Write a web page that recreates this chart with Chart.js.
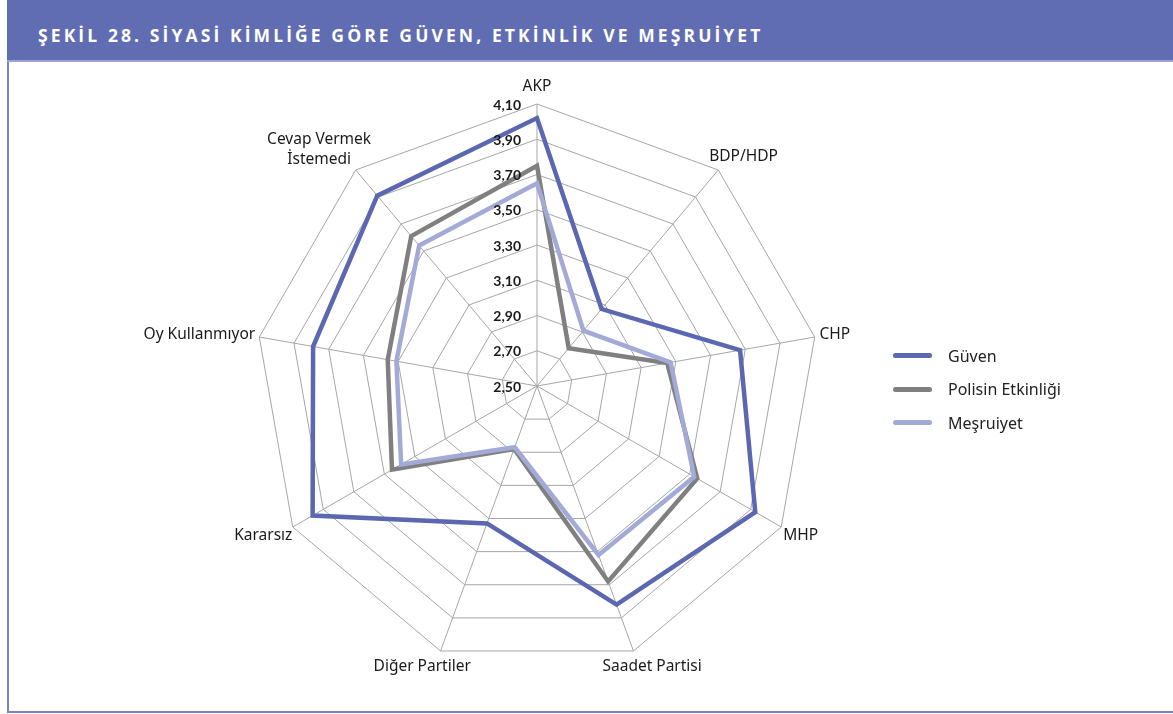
<!DOCTYPE html>
<html>
<head>
<meta charset="utf-8">
<script src="https://cdn.jsdelivr.net/npm/chart.js@4"></script>
<style>
  html, body { margin: 0; padding: 0; background: #fff; }
  body { width: 1173px; height: 714px; position: relative; overflow: hidden; font-family: "Noto Sans", sans-serif; }
  .header {
    position: absolute; left: 7px; top: 0; width: 1166px; height: 60px;
    background: #616db2; border-bottom: 2px solid #9ca4d6;
  }
  .header h1 {
    margin: 0; position: absolute; left: 31px; top: 23px; line-height: 24px;
    font: 700 17.5px "Open Sans", sans-serif; letter-spacing: 3.1px; color: #fff;
  }
  .frame {
    position: absolute; left: 7px; top: 62px; width: 1166px; height: 649px;
    border-left: 2px solid #7a83c2; border-bottom: 2px solid #7a83c2;
  }
  #wrap { position: absolute; left: 0; top: 62px; width: 1074px; height: 650px; }
  #legend { position: absolute; left: 893px; top: 339px; }
  #legend .item { display: flex; align-items: center; height: 33.5px; font-size: 16px; color: #222; }
  #legend .sw { width: 39px; height: 5px; border-radius: 3px; margin-right: 16px; }
</style>
</head>
<body>
<div class="header"><h1>ŞEKİL 28. SİYASİ KİMLİĞE GÖRE GÜVEN, ETKİNLİK VE MEŞRUİYET</h1></div>
<div class="frame"></div>
<div id="wrap"><canvas id="chart"></canvas></div>
<div id="legend"></div>
<script>
const categories = ['AKP', 'BDP/HDP', 'CHP', 'MHP', 'Saadet Partisi', 'Diğer Partiler', 'Kararsız', 'Oy Kullanmıyor', ['Cevap Vermek', 'İstemedi']]
const guven = [4.02, 3.07, 3.67, 3.93, 3.82, 3.33, 3.97, 3.79, 3.91]
const polis = [3.75, 2.78, 3.25, 3.55, 3.68, 2.88, 3.45, 3.36, 3.61]
const mesruiyet = [3.65, 2.91, 3.27, 3.53, 3.52, 2.87, 3.39, 3.31, 3.54]
const tickLabels = ['2,50', '2,70', '2,90', '3,10', '3,30', '3,50', '3,70', '3,90', '4,10']

const seriesNames = ['Güven', 'Polisin Etkinliği', 'Meşruiyet']
const colors = ['#5b67b1', '#808080', '#a4aad7']

// tick labels sit left of the AKP axis, right aligned (2,50 included)
const tickLabelPlugin = {
    id: 'tickLabels',
    afterDatasetsDraw(chart) {
        const r = chart.scales.r
        const ctx = chart.ctx
        ctx.save()
        ctx.font = '700 14px Lato'
        ctx.fillStyle = '#1a1a1a'
        ctx.textAlign = 'right'
        ctx.textBaseline = 'middle'
        r.ticks.forEach((t, i) => {
            const d = r.getDistanceFromCenterForValue(t.value)
            ctx.fillText(tickLabels[i], r.xCenter - 16, r.yCenter - d + 1)
        })
        ctx.restore()
    }
}

// category labels, offset from the outer vertex the way Excel does it
const pointLabelPlugin = {
    id: 'catLabels',
    afterDatasetsDraw(chart) {
        const r = chart.scales.r
        const ctx = chart.ctx
        const lh = 20
        ctx.save()
        ctx.font = '15.5px "Noto Sans"'
        ctx.fillStyle = '#1a1a1a'
        ctx.textAlign = 'center'
        ctx.textBaseline = 'middle'
        chart.data.labels.forEach((lab, i) => {
            const lines = [].concat(lab)
            const w = Math.max(...lines.map(l => ctx.measureText(l).width))
            const h = lines.length * lh
            const a = r.getIndexAngle(i)
            const p = r.getPointPosition(i, r.drawingArea)
            const cx = p.x + Math.sin(a) * (w / 2 + 5)
            const cy = p.y - Math.cos(a) * (h / 2 + 7)
            lines.forEach((l, k) => ctx.fillText(l, cx, cy + (k - (lines.length - 1) / 2) * lh))
        })
        ctx.restore()
    }
}

const chart = new Chart(document.getElementById('chart'), {
    type: 'radar',
    data: {
        labels: categories,
        datasets: [guven, polis, mesruiyet].map((d, i) => ({
            label: seriesNames[i],
            data: d,
            borderColor: colors[i],
            backgroundColor: colors[i],
            borderWidth: 4.5,
            fill: false,
            pointRadius: 0,
            order: 2 - i
        }))
    },
    options: {
        responsive: true,
        maintainAspectRatio: false,
        animation: false,
        layout: { padding: { top: 42, bottom: 44, left: 0, right: 0 } },
        scales: {
            r: {
                min: 2.5,
                max: 4.1,
                ticks: { stepSize: 0.2, display: false },
                grid: { color: '#a6a6a6', lineWidth: 1 },
                angleLines: { color: '#a6a6a6', lineWidth: 1 },
                pointLabels: { display: false }
            }
        },
        plugins: {
            legend: { display: false },
            tooltip: { enabled: false }
        }
    },
    plugins: [tickLabelPlugin, pointLabelPlugin]
})

const legend = document.getElementById('legend')
chart.data.datasets.forEach(ds => {
    const item = document.createElement('div')
    item.className = 'item'
    item.innerHTML = `<span class="sw" style="background:${ds.borderColor}"></span><span>${ds.label}</span>`
    legend.appendChild(item)
})
</script>
</body>
</html>
